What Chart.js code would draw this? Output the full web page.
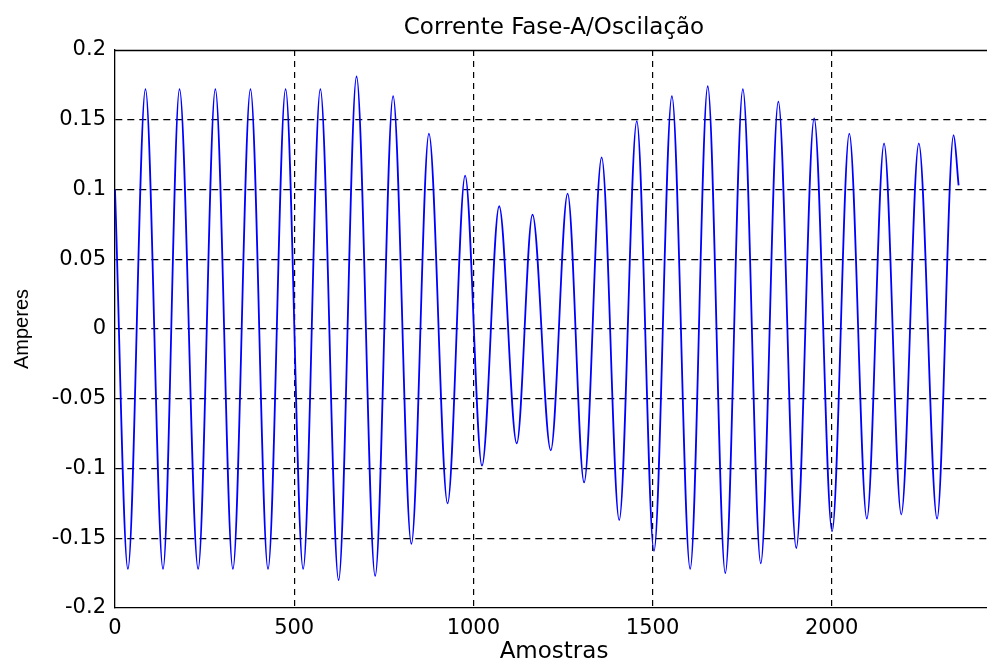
<!DOCTYPE html>
<html lang="pt">
<head>
    <meta charset="UTF-8">
    <title>Corrente Fase-A/Oscilação</title>
    <script src="https://cdn.jsdelivr.net/npm/chart.js"></script>
    <style>
        html, body {
            margin: 0;
            padding: 0;
            background: #fff;
            overflow: hidden;
        }
        #correnteChart {
            display: block;
        }
    </style>
</head>
<body>

<canvas id="correnteChart" width="993" height="667"></canvas>

<script>
    // extremos da forma de onda (amostra, ampères)
    const amostras = [
        0, 36, 85, 134, 180, 232, 280, 329, 378, 427,
        476, 525, 573, 624, 674, 726, 776, 827, 876, 928,
        977, 1024, 1072, 1121, 1165, 1216, 1263, 1309, 1358, 1407,
        1456, 1504, 1554, 1605, 1654, 1703, 1752, 1802, 1851, 1901,
        1951, 2001, 2049, 2098, 2146, 2194, 2243, 2294, 2340, 2354
    ];
    const amperes = [
        0.100, -0.172, 0.172, -0.172, 0.172, -0.172, 0.172, -0.172, 0.172, -0.172,
        0.172, -0.172, 0.172, -0.180, 0.181, -0.177, 0.167, -0.154, 0.140, -0.125,
        0.110, -0.098, 0.088, -0.082, 0.082, -0.087, 0.097, -0.110, 0.123, -0.137,
        0.149, -0.159, 0.167, -0.172, 0.174, -0.175, 0.172, -0.168, 0.163, -0.157,
        0.151, -0.145, 0.140, -0.136, 0.133, -0.133, 0.133, -0.136, 0.139, 0.103
    ];

    const xTicks = [0, 500, 1000, 1500, 2000];
    const yTicks = [-0.2, -0.15, -0.1, -0.05, 0, 0.05, 0.1, 0.15, 0.2];
    const yTickLabels = ['-0.2', '-0.15', '-0.1', '-0.05', '0', '0.05', '0.1', '0.15', '0.2'];

    const tickFont = { family: 'DejaVu Sans', size: 21 };

    // caixa do eixo: linha de cima e da direita
    const axesBox = {
        id: 'axesBox',
        afterDraw(chart) {
            const { ctx, chartArea: a } = chart;
            ctx.save();
            ctx.strokeStyle = '#000';
            ctx.lineWidth = 1.3;
            ctx.beginPath();
            ctx.moveTo(a.left, a.top + 0.5);
            ctx.lineTo(a.right, a.top + 0.5);
            ctx.lineTo(a.right, a.bottom);
            ctx.stroke();
            ctx.restore();
        }
    };

    const ctx = document.getElementById('correnteChart').getContext('2d');

    new Chart(ctx, {
        type: 'line',
        data: {
            datasets: [{
                data: amostras.map((x, i) => ({ x: x, y: amperes[i] })),
                borderColor: '#0000ff',
                borderWidth: 1.8,
                pointRadius: 0,
                fill: false,
                cubicInterpolationMode: 'monotone'
            }]
        },
        options: {
            responsive: false,
            animation: false,
            devicePixelRatio: 1,
            layout: { padding: 0 },
            plugins: {
                legend: { display: false },
                tooltip: { enabled: false },
                title: {
                    display: true,
                    text: 'Corrente Fase-A/Oscilação',
                    fullSize: false,
                    color: '#000',
                    font: { family: 'DejaVu Sans', size: 23, weight: 'normal', lineHeight: 1.2 },
                    padding: { top: 14, bottom: 8.4 }
                }
            },
            scales: {
                x: {
                    type: 'linear',
                    min: 0,
                    max: 2450,
                    afterBuildTicks: s => { s.ticks = xTicks.map(v => ({ value: v })); },
                    afterFit: s => { s.height = 59; },
                    ticks: {
                        color: '#000',
                        font: tickFont,
                        padding: 8,
                        maxRotation: 0,
                        autoSkip: false,
                        callback: v => String(v)
                    },
                    grid: {
                        drawTicks: false,
                        color: c => (c.tick && c.tick.value === 0) ? 'rgba(0,0,0,0)' : '#000',
                        lineWidth: 1.2
                    },
                    border: { display: true, color: '#000', width: 1.3, dash: [6, 5] },
                    title: {
                        display: true,
                        text: 'Amostras',
                        color: '#000',
                        font: { family: 'DejaVu Sans', size: 23, lineHeight: 1 },
                        padding: { top: 0, bottom: 3 }
                    }
                },
                y: {
                    type: 'linear',
                    min: -0.2,
                    max: 0.2,
                    afterBuildTicks: s => { s.ticks = yTicks.map(v => ({ value: v })); },
                    afterFit: s => { s.width = 115; },
                    ticks: {
                        color: '#000',
                        font: tickFont,
                        padding: 9,
                        autoSkip: false,
                        callback: (v, i) => yTickLabels[i]
                    },
                    grid: {
                        drawTicks: false,
                        color: c => (c.tick && (c.tick.value === -0.2 || c.tick.value === 0.2)) ? 'rgba(0,0,0,0)' : '#000',
                        lineWidth: 1.2
                    },
                    border: { display: true, color: '#000', width: 1.3, dash: [7, 5] },
                    title: {
                        display: true,
                        text: 'Amperes',
                        color: '#000',
                        font: { family: 'Liberation Sans', size: 20, lineHeight: 1.2 },
                        padding: { top: 10, bottom: 0 }
                    }
                }
            }
        },
        plugins: [axesBox]
    });
</script>

</body>
</html>
